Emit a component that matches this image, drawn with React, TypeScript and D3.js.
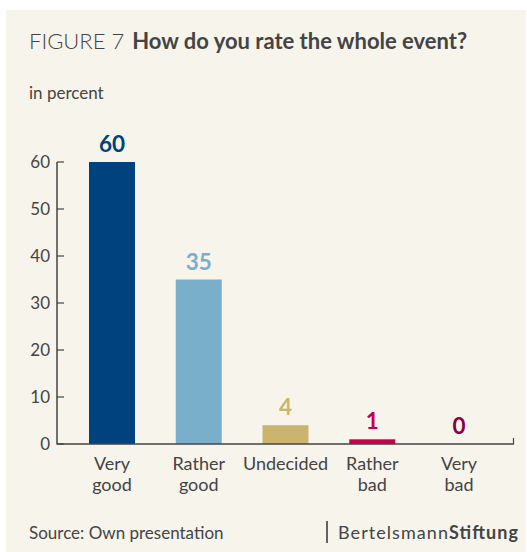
import React from "react";
import * as d3 from "d3";

const categories: string[][] = [["Very", "good"], ["Rather", "good"], ["Undecided"], ["Rather", "bad"], ["Very", "bad"]];
const values: number[] = [60, 35, 4, 1, 0];
const colors: string[] = ["#00427e", "#7aafcb", "#cbb56e", "#c6004b", "#8b0040"];
const yTicks: number[] = [0, 10, 20, 30, 40, 50, 60];

const W = 527;
const H = 552;
const FONT = "Lato, 'Noto Sans', sans-serif";
const TXT = "#444";

export default function App() {
  const x = d3
    .scaleBand<number>()
    .domain(d3.range(values.length))
    .range([57, 514])
    .paddingInner(0.47)
    .paddingOuter(0.369);
  const y = d3.scaleLinear().domain([0, 60]).range([444, 162]);
  const bw = x.bandwidth();

  return (
    <div style={{ position: "fixed", left: 0, top: 0 }}>
      <svg width={W} height={H} style={{ display: "block" }} fontFamily={FONT}>
        <rect x={0} y={0} width={W} height={H} fill="#fff" />
        <rect x={6} y={10} width={520} height={H - 10} fill="#f7f4ec" />
        <text x={29} y={49} fontSize={22} fill={TXT}>
          <tspan fontWeight={300}>FIGURE 7</tspan>
          <tspan fontWeight={700} dx={8}>How do you rate the whole event?</tspan>
        </text>
        <text x={29} y={99} fontSize={17} fill={TXT}>in percent</text>

        {values.map((v, i) => (
          <g key={i}>
            <rect x={x(i)!} y={y(v)} width={bw} height={Math.max(0, y(0) - y(v))} fill={colors[i]} />
            <text
              x={x(i)! + bw / 2}
              y={y(v) - 10}
              textAnchor="middle"
              fontSize={22.5}
              fontWeight={700}
              fill={colors[i]}
            >
              {v}
            </text>
            <text x={x(i)! + bw / 2} y={470} textAnchor="middle" fontSize={18} fill={TXT}>
              {categories[i].map((l, j) => (
                <tspan key={j} x={x(i)! + bw / 2} dy={j === 0 ? 0 : 21}>
                  {l}
                </tspan>
              ))}
            </text>
          </g>
        ))}

        {/* y axis */}
        <line x1={57} x2={57} y1={y(60)} y2={y(0) + 0.5} stroke={TXT} strokeWidth={1.5} />
        {yTicks.map((t) => (
          <g key={t}>
            <line x1={57} x2={64} y1={y(t)} y2={y(t)} stroke={TXT} strokeWidth={1.2} />
            <text x={50} y={y(t) + 6} textAnchor="end" fontSize={17} fill={TXT}>
              {t}
            </text>
          </g>
        ))}
        {/* x axis */}
        <line x1={57} x2={514} y1={y(0)} y2={y(0)} stroke={TXT} strokeWidth={1.5} />
        <line x1={513.5} x2={513.5} y1={y(0)} y2={y(0) - 6} stroke={TXT} strokeWidth={1.2} />

        <text x={29} y={539} fontSize={17} fill={TXT}>Source: Own presentation</text>
        <line x1={327} x2={327} y1={521} y2={543} stroke="#333" strokeWidth={1.5} />
        <text x={338} y={539} fontSize={18} fill={TXT} textLength={180} lengthAdjust="spacing">
          <tspan>Bertelsmann</tspan>
          <tspan fontWeight={700}>Stiftung</tspan>
        </text>
      </svg>
    </div>
  );
}
